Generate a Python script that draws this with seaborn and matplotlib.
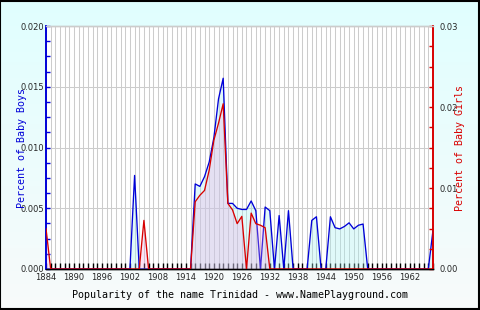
import numpy as np
import pandas as pd
import matplotlib
matplotlib.use("Agg")
import matplotlib.pyplot as plt
import seaborn as sns
from matplotlib.ticker import MultipleLocator, FixedLocator

# ---------------- data ----------------
years = list(range(1884, 1968))

boys = [0.0] * 84
girls = [0.0] * 84

boys_values = {
    1903: 0.0077,
    1916: 0.0070, 1917: 0.0068, 1918: 0.0076, 1919: 0.0088, 1920: 0.0108,
    1921: 0.0140, 1922: 0.0157, 1923: 0.0054, 1924: 0.0054, 1925: 0.0050,
    1926: 0.0049, 1927: 0.0049, 1928: 0.0056, 1929: 0.0048, 1930: 0.0,
    1931: 0.0051, 1932: 0.0048, 1933: 0.0, 1934: 0.0044, 1935: 0.0,
    1936: 0.0048, 1941: 0.0040, 1942: 0.0043, 1945: 0.0043, 1946: 0.0034,
    1947: 0.0033, 1948: 0.0035, 1949: 0.0038, 1950: 0.0033, 1951: 0.0036,
    1952: 0.0037, 1967: 0.0032,
}
girls_values = {
    1884: 0.0050, 1905: 0.0060,
    1916: 0.0083, 1917: 0.0091, 1918: 0.0097, 1919: 0.0122, 1920: 0.0159,
    1921: 0.0180, 1922: 0.0204, 1923: 0.0081, 1924: 0.0073, 1925: 0.0056,
    1926: 0.0065, 1927: 0.0, 1928: 0.0069, 1929: 0.0056, 1930: 0.0054,
    1931: 0.0051,
}
for y, v in boys_values.items():
    boys[y - 1884] = v
for y, v in girls_values.items():
    girls[y - 1884] = v

xtick_labels = [str(y) for y in range(1884, 1968, 6)]
boys_ticks = [0.000, 0.005, 0.010, 0.015, 0.020]
girls_ticks = [0.00, 0.01, 0.02, 0.03]

title_text = "Popularity of the name Trinidad - www.NamePlayground.com"
boys_label = "Percent of Baby Boys"
girls_label = "Percent of Baby Girls"

df = pd.DataFrame({"year": years, "boys": boys, "girls": girls})

# ---------------- style ----------------
sns.set_style("white")
plt.rcParams["font.family"] = ["DejaVu Sans"]

BLUE = "#0000d8"
RED = "#d80000"
GRID = "#cccccc"
MONO = ["DejaVu Sans Mono"]

fig = plt.figure(figsize=(4.8, 3.1), dpi=100)
fig.patch.set_facecolor("white")

# gradient background
bg = fig.add_axes([0, 0, 1, 1], zorder=-10)
grad = np.linspace(0, 1, 256).reshape(-1, 1)
top = np.array([224, 255, 255]) / 255
bot = np.array([248, 250, 250]) / 255
img = top[None, None, :] * (1 - grad[:, :, None]) + bot[None, None, :] * grad[:, :, None]
bg.imshow(img, aspect="auto", extent=[0, 1, 0, 1], origin="upper")
bg.set_xlim(0, 1)
bg.set_ylim(0, 1)
bg.axis("off")
bg.add_patch(plt.Rectangle((0.001, 0.002), 0.997, 0.995, fill=False,
                           edgecolor="black", linewidth=1.5,
                           transform=bg.transAxes))

ax = fig.add_axes([46 / 480, 41 / 310, 387 / 480, 243 / 310])
ax.set_facecolor("white")
ax2 = ax.twinx()

# fills
ax.fill_between(df["year"], df["boys"], 0, color="#a8f0f0", alpha=0.35,
                linewidth=0, zorder=1)
ax2.fill_between(df["year"], df["girls"], 0, color="#f0a0e0", alpha=0.28,
                 linewidth=0, zorder=1)

sns.lineplot(data=df, x="year", y="boys", ax=ax, color=BLUE, linewidth=0.95,
             zorder=3)
sns.lineplot(data=df, x="year", y="girls", ax=ax2, color=RED, linewidth=0.95,
             zorder=3)

ax.set_xlim(1884, 1967)
ax.set_ylim(0, 0.020)
ax2.set_ylim(0, 0.030)

# x ticks: every year, labels every 6 years
ax.xaxis.set_major_locator(FixedLocator(list(range(1884, 1968, 6))))
ax.set_xticklabels(xtick_labels, fontsize=6)
ax.xaxis.set_minor_locator(MultipleLocator(1))
ax.tick_params(axis="x", which="both", direction="in", length=4, width=1,
               color="black", pad=3, bottom=True, top=False)

# y ticks
ax.set_yticks(boys_ticks)
ax.set_yticklabels([f"{v:.3f}" for v in boys_ticks], fontsize=6)
ax.yaxis.set_minor_locator(MultipleLocator(0.00125))
ax.tick_params(axis="y", which="both", direction="in", length=3, width=1,
               color=BLUE, pad=1, left=True)
ax2.set_yticks(girls_ticks)
ax2.set_yticklabels([f"{v:.2f}" for v in girls_ticks], fontsize=6)
ax2.yaxis.set_minor_locator(MultipleLocator(0.0025))
ax2.tick_params(axis="y", which="both", direction="in", length=3, width=1,
                color=RED, pad=5, right=True)

# grid
ax.grid(True, which="minor", axis="x", color=GRID, linewidth=0.75)
ax.grid(True, which="major", axis="x", color=GRID, linewidth=0.75)
ax.grid(True, which="major", axis="y", color=GRID, linewidth=0.75)
ax.set_axisbelow(True)

# spines
for a in (ax, ax2):
    a.spines["top"].set_color(GRID)
    a.spines["left"].set_color(BLUE)
    a.spines["right"].set_color(RED)
    a.spines["bottom"].set_color("black")
    for s in a.spines.values():
        s.set_linewidth(1.0)
    a.spines["left"].set_linewidth(1.2)
    a.spines["right"].set_linewidth(1.2)

ax.set_xlabel("")
ax.set_ylabel("")
ax2.set_ylabel("")

fig.text(22 / 480, 1 - 148 / 310, boys_label, rotation=90, ha="center",
         va="center", color=BLUE, fontsize=7.2, family=MONO)
fig.text(460 / 480, 1 - 148 / 310, girls_label, rotation=90, ha="center",
         va="center", color=RED, fontsize=7.2, family=MONO)
fig.text(240 / 480, 1 - 295 / 310, title_text, ha="center", va="center",
         color="black", fontsize=7.2, family=MONO)

fig.savefig("out.png", dpi=100)
